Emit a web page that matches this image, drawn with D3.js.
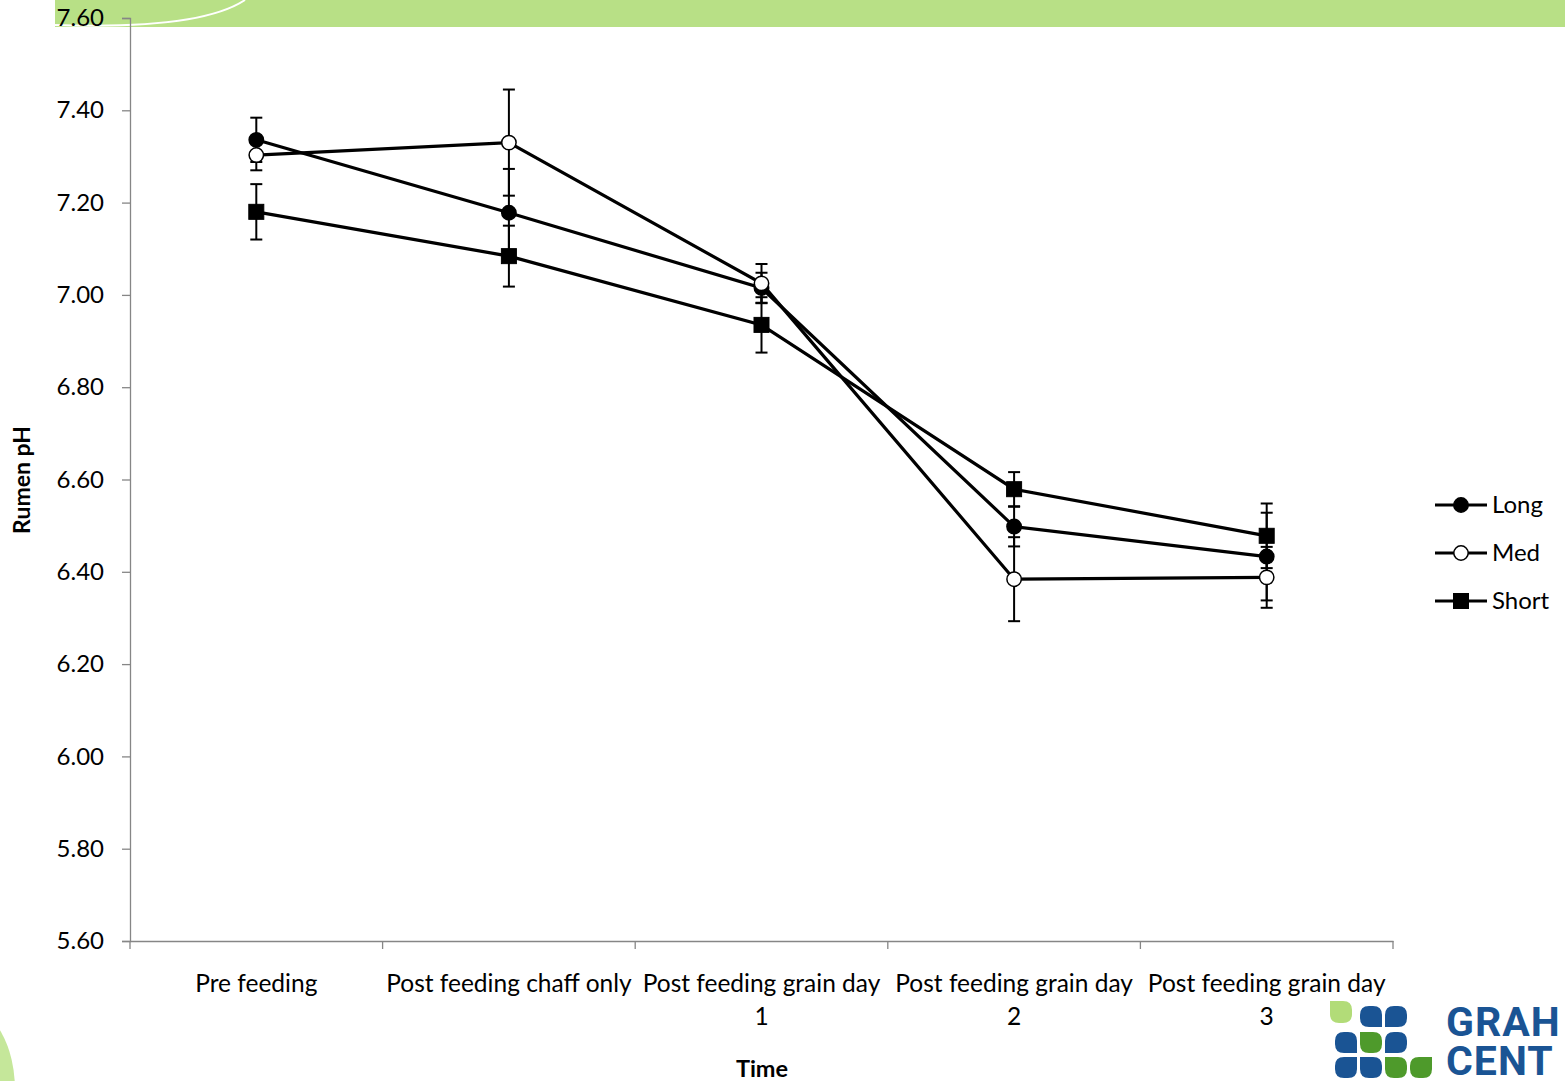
<!DOCTYPE html>
<html><head><meta charset="utf-8">
<script src="https://cdn.jsdelivr.net/npm/d3@7"></script>
<style>
html,body{margin:0;padding:0;background:#fff;}
svg{display:block;font-family:Lato,"Open Sans",sans-serif;}
</style></head>
<body>
<svg id="c" width="1565" height="1081"></svg>
<script>
const categories = ["Pre feeding","Post feeding chaff only","Post feeding grain day 1","Post feeding grain day 2","Post feeding grain day 3"];
const categoryLines = [["Pre feeding"],["Post feeding chaff only"],["Post feeding grain day","1"],["Post feeding grain day","2"],["Post feeding grain day","3"]];
const seriesNames = ["Long","Med","Short"];
const longValues  = [7.336, 7.178, 7.015, 6.498, 6.433];
const longErrors  = [0.048, 0.095, 0.033, 0.043, 0.095];
const medValues   = [7.303, 7.330, 7.025, 6.384, 6.388];
const medErrors   = [0.033, 0.115, 0.042, 0.091, 0.066];
const shortValues = [7.180, 7.084, 6.935, 6.579, 6.478];
const shortErrors = [0.060, 0.066, 0.060, 0.037, 0.070];
const yTicks = [5.6,5.8,6.0,6.2,6.4,6.6,6.8,7.0,7.2,7.4,7.6];

const svg = d3.select("#c");

// decorative top band
svg.append("rect").attr("x",53).attr("y",0).attr("width",1512).attr("height",27).attr("fill","#b8e086");
svg.append("path").attr("d","M54,0 L54,27").attr("stroke","#fff").attr("stroke-width",2);
svg.append("path").attr("d","M54,25 Q200,30 245,0").attr("stroke","#fff").attr("stroke-width",2).attr("fill","none");
// bottom-left shape
svg.append("ellipse").attr("cx",-30).attr("cy",1090).attr("rx",45).attr("ry",80).attr("fill","#c5e79a");

const x = d3.scaleBand().domain(categories).range([130,1393]).padding(0);
const y = d3.scaleLinear().domain([5.6,7.6]).range([941,18]);
const cx = c => x(c) + x.bandwidth()/2;

const axisColor = "#868686";
const F = 24;
// y axis
const yAxis = svg.append("g").attr("transform","translate(130,0)")
  .call(d3.axisLeft(y).tickValues(yTicks).tickFormat(d3.format(".2f")).tickSize(8).tickPadding(4));
yAxis.select(".domain").attr("stroke",axisColor).attr("stroke-width",1.3);
yAxis.selectAll(".tick line").attr("stroke",axisColor).attr("stroke-width",1.3);
yAxis.selectAll(".tick text").attr("font-size",F).attr("fill","#000").attr("font-family","Lato,sans-serif").attr("dx",-14);

// x axis
const xAxis = svg.append("g").attr("transform","translate(0,941)")
  .call(d3.axisBottom(x).tickSize(0).tickFormat(""));
xAxis.select(".domain").attr("stroke",axisColor).attr("stroke-width",1.3);
const boundaries = categories.map(c => x(c)).concat([x(categories[4]) + x.bandwidth()]);
svg.append("g").selectAll("line").data(boundaries).join("line")
  .attr("x1",d=>d).attr("x2",d=>d).attr("y1",941).attr("y2",949)
  .attr("stroke",axisColor).attr("stroke-width",1.3);
const xl = svg.append("g").selectAll("text").data(categories).join("text")
  .attr("x",d=>cx(d)).attr("y",992).attr("text-anchor","middle").attr("font-size",24.5).attr("fill","#000");
xl.each(function(d,i){
  const t = d3.select(this);
  categoryLines[i].forEach((ln,j)=>{
    t.append("tspan").attr("x",cx(d)).attr("dy", j===0?0:33).text(ln);
  });
});

// axis titles
svg.append("text").attr("transform","translate(30,480) rotate(-90)").attr("text-anchor","middle")
  .attr("font-size",23).attr("font-weight","bold").text("Rumen pH");
svg.append("text").attr("x",762).attr("y",1077).attr("text-anchor","middle")
  .attr("font-size",23.5).attr("font-weight","bold").text("Time");

const series = [
  {name:"Long", vals:longValues, errs:longErrors, shape:"circle", fill:"#000"},
  {name:"Med", vals:medValues, errs:medErrors, shape:"circle", fill:"#fff"},
  {name:"Short", vals:shortValues, errs:shortErrors, shape:"square", fill:"#000"}
];

const line = d3.line().x((d,i)=>cx(categories[i])).y(d=>y(d));
const capW = 6;

// error bars
series.forEach(s=>{
  const g = svg.append("g");
  s.vals.forEach((v,i)=>{
    const px = cx(categories[i]);
    const y1 = y(v + s.errs[i]), y2 = y(v - s.errs[i]);
    g.append("line").attr("x1",px).attr("x2",px).attr("y1",y1).attr("y2",y2).attr("stroke","#000").attr("stroke-width",2);
    [y1,y2].forEach(yy=>g.append("line").attr("x1",px-capW).attr("x2",px+capW).attr("y1",yy).attr("y2",yy).attr("stroke","#000").attr("stroke-width",2));
  });
});
// lines
series.forEach(s=>{
  svg.append("path").datum(s.vals).attr("d",line).attr("fill","none").attr("stroke","#000").attr("stroke-width",3.2);
});
// markers
function marker(g, s, px, py){
  if(s.shape==="circle"){
    g.append("circle").attr("cx",px).attr("cy",py).attr("r",7.2).attr("fill",s.fill).attr("stroke","#000").attr("stroke-width",1.5);
  } else {
    g.append("rect").attr("x",px-7.5).attr("y",py-7.5).attr("width",15).attr("height",15).attr("fill",s.fill).attr("stroke","#000").attr("stroke-width",1);
  }
}
series.forEach(s=>{
  const g = svg.append("g");
  s.vals.forEach((v,i)=>marker(g,s,cx(categories[i]),y(v)));
});

// legend
const legY = [505,553,601];
series.forEach((s,i)=>{
  const g = svg.append("g");
  g.append("line").attr("x1",1435).attr("x2",1487).attr("y1",legY[i]).attr("y2",legY[i]).attr("stroke","#000").attr("stroke-width",3.2);
  marker(g,s,1461,legY[i]);
  g.append("text").attr("x",1492).attr("y",legY[i]+8).attr("font-size",F).text(s.name);
});

// logo
const logo = svg.append("g");
const leaf = (x0,y0,w,h,col,sharp)=>{
  const r = 9;
  let d;
  if(sharp==="tl"){
    d=`M${x0},${y0} L${x0+w-r},${y0} Q${x0+w},${y0} ${x0+w},${y0+r} L${x0+w},${y0+h-r} Q${x0+w},${y0+h} ${x0+w-r},${y0+h} L${x0+r},${y0+h} Q${x0},${y0+h} ${x0},${y0+h-r} Z`;
  } else if(sharp==="tr"){
    d=`M${x0+r},${y0} L${x0+w},${y0} L${x0+w},${y0+h-r} Q${x0+w},${y0+h} ${x0+w-r},${y0+h} L${x0+r},${y0+h} Q${x0},${y0+h} ${x0},${y0+h-r} L${x0},${y0+r} Q${x0},${y0} ${x0+r},${y0} Z`;
  } else if(sharp==="bl"){
    d=`M${x0+r},${y0} L${x0+w-r},${y0} Q${x0+w},${y0} ${x0+w},${y0+r} L${x0+w},${y0+h-r} Q${x0+w},${y0+h} ${x0+w-r},${y0+h} L${x0},${y0+h} L${x0},${y0+r} Q${x0},${y0} ${x0+r},${y0} Z`;
  } else {
    d=`M${x0+r},${y0} L${x0+w-r},${y0} Q${x0+w},${y0} ${x0+w},${y0+r} L${x0+w},${y0+h} L${x0+r},${y0+h} Q${x0},${y0+h} ${x0},${y0+h-r} L${x0},${y0+r} Q${x0},${y0} ${x0+r},${y0} Z`;
  }
  logo.append("path").attr("d",d).attr("fill",col);
};
const B="#1a5494", G="#4e9a2b", LG="#b2dc78";
leaf(1330,1001,22,22,LG,"tl");
leaf(1360,1006,22,21,B,"br");
leaf(1385,1006,22,21,B,"bl");
leaf(1335,1032,22,21,B,"br");
leaf(1360,1032,22,21,G,"tl");
leaf(1385,1032,22,21,B,"bl");
leaf(1335,1057,22,21,B,"tr");
leaf(1360,1057,22,21,B,"tl");
leaf(1385,1057,22,21,G,"tl");
leaf(1410,1057,22,21,G,"tr");
logo.append("text").attr("x",1446).attr("y",1036).attr("font-size",41).attr("font-weight","bold").attr("letter-spacing",1).attr("fill",B).attr("font-family","Roboto,sans-serif").text("GRAH");
logo.append("text").attr("x",1446).attr("y",1075).attr("font-size",41).attr("font-weight","bold").attr("letter-spacing",1).attr("fill",B).attr("font-family","Roboto,sans-serif").text("CENT");
</script>
</body></html>
